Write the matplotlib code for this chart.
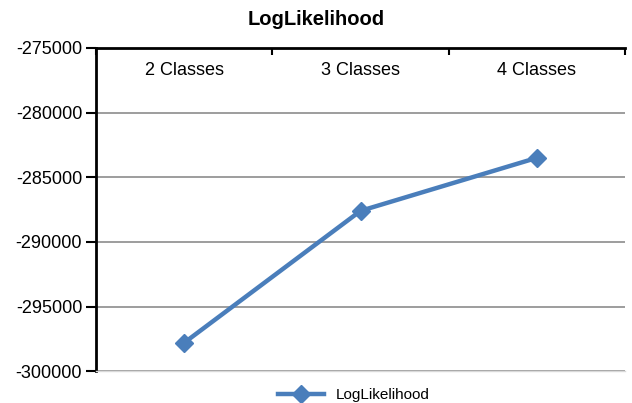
import matplotlib.pyplot as plt
from matplotlib.transforms import blended_transform_factory

categories = ['2 Classes', '3 Classes', '4 Classes']
loglik = [-297800, -287600, -283500]
y_ticks = [-300000, -295000, -290000, -285000, -280000, -275000]

plt.rcParams['font.family'] = ['Liberation Sans', 'DejaVu Sans']

fig = plt.figure(figsize=(6.32, 4.03), dpi=100)
ax = fig.add_axes([0.152, 0.079, 0.837, 0.802])

x = list(range(len(categories)))
line, = ax.plot(x, loglik, color='#4a7ebb', linewidth=3.2, marker='D',
                markersize=9, label='LogLikelihood', zorder=3)

ax.set_xlim(-0.5, len(categories) - 0.5)
ax.set_ylim(-300000, -275000)
ax.set_yticks(y_ticks)
ax.set_yticklabels([str(v) for v in y_ticks], fontsize=13)
ax.tick_params(axis='y', direction='out', length=7, width=1.5, pad=3)
ax.yaxis.grid(True, color='#8c8c8c', linewidth=1.2)
ax.set_axisbelow(True)

# category axis drawn along the top
ax.xaxis.tick_top()
ax.set_xticks([i - 0.5 for i in range(len(categories) + 1)])
ax.set_xticklabels([])
ax.tick_params(axis='x', direction='in', length=5, width=1.5)
trans = blended_transform_factory(ax.transData, ax.transAxes)
for i, c in enumerate(categories):
    ax.text(i, 0.93, c, transform=trans, ha='center', va='center', fontsize=13)

for s in ['left', 'top']:
    ax.spines[s].set_linewidth(2)
    ax.spines[s].set_color('black')
ax.spines['right'].set_visible(False)
ax.spines['bottom'].set_color('#d9d9d9')
ax.spines['bottom'].set_linewidth(1)

fig.suptitle('LogLikelihood', fontsize=14.5, fontweight='bold', y=0.975)
fig.legend(handles=[line], loc='center', bbox_to_anchor=(0.56, 0.02),
           frameon=False, fontsize=11, handlelength=3)

fig.savefig('out.png', dpi=100)
